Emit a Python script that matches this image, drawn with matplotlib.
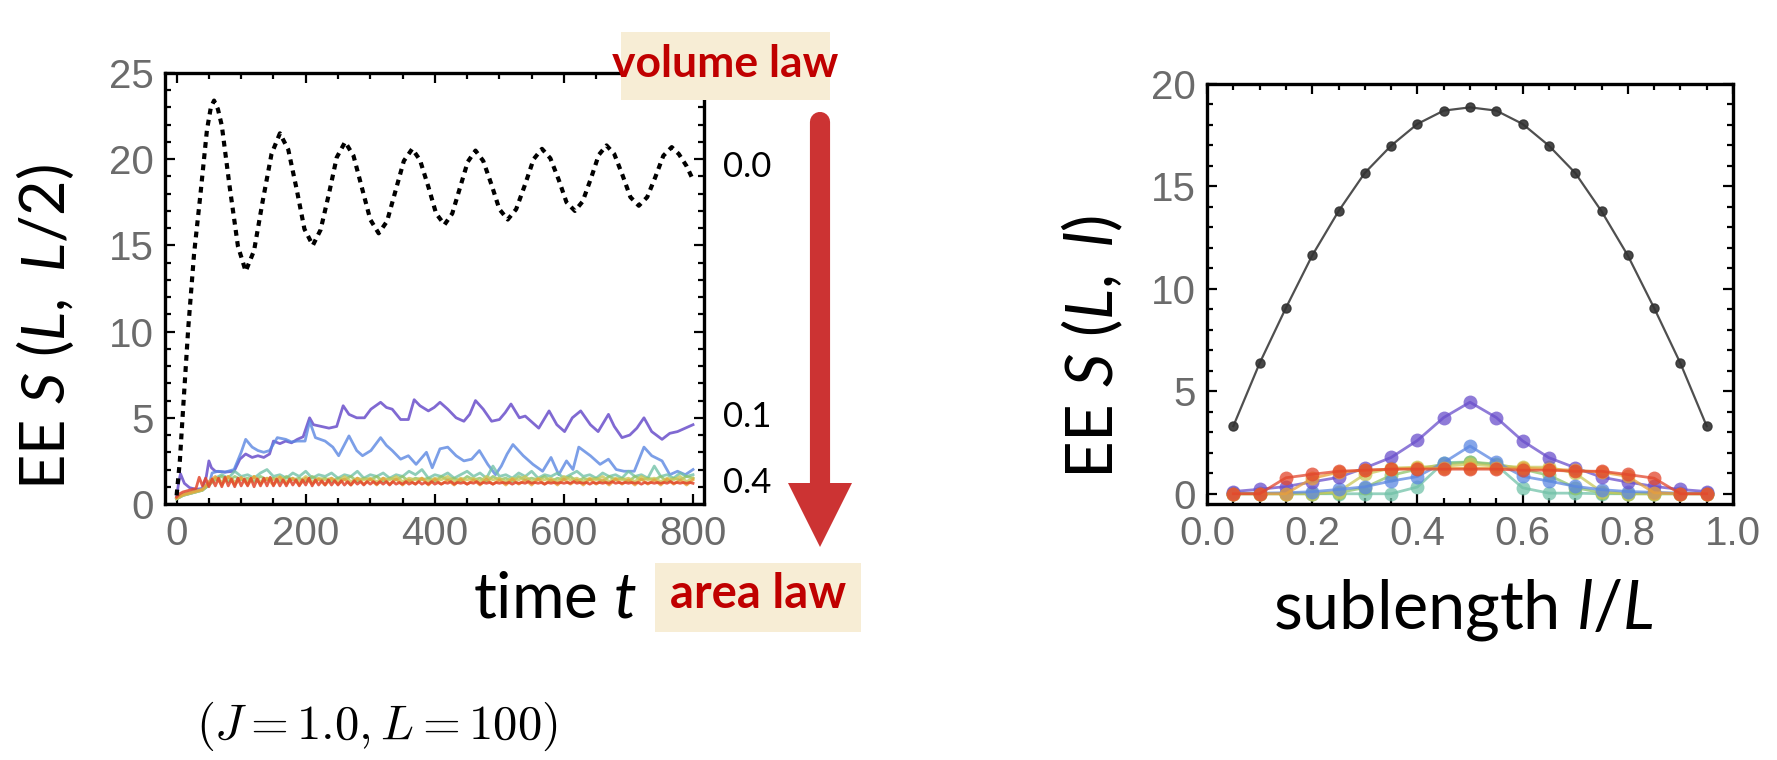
import matplotlib
matplotlib.use('Agg')
import matplotlib.pyplot as plt
import numpy as np
from matplotlib.patches import Rectangle, Polygon
from matplotlib.ticker import MultipleLocator, FormatStrFormatter

plt.rcParams['mathtext.fontset'] = 'custom'
plt.rcParams['mathtext.rm'] = 'Lato'
plt.rcParams['mathtext.it'] = 'Lato:italic'
plt.rcParams['mathtext.bf'] = 'Lato:bold'

# ---------------- data: left panel (time evolution) ----------------
black_t = [0, 5, 10, 18, 27, 37, 47, 53, 58, 64, 70, 82, 95, 107, 120, 133, 147, 160,
           173, 186, 198, 211, 223, 236, 248, 261, 274, 287, 300, 313, 326, 339, 352, 365,
           377, 390, 402, 415, 427, 439, 451, 463, 475, 488, 500, 513, 526, 540, 553, 566,
           579, 592, 604, 617, 629, 642, 654, 666, 678, 691, 703, 716, 729, 742, 754, 767,
           778, 790, 800]
black_S = [0.5, 2.5, 5.5, 10.2, 14.5, 18.0, 21.7, 23.0, 23.4, 22.9, 21.95, 18.45, 14.95, 13.5,
           14.7, 17.5, 20.3, 21.5, 20.55, 18.25, 15.95, 15.0, 15.9, 18.0, 20.1, 21.0, 20.2,
           18.35, 16.5, 15.7, 16.4, 18.15, 19.9, 20.6, 19.95, 18.4, 16.85, 16.2, 16.85, 18.35,
           19.85, 20.5, 19.9, 18.5, 17.1, 16.5, 17.1, 18.55, 20.0, 20.6, 20.05, 18.8, 17.5,
           17.0, 17.55, 18.9, 20.25, 20.8, 20.3, 19.05, 17.8, 17.3, 17.8, 19.0, 20.2, 20.7,
           20.3, 19.6, 18.8]

purple_t = [0, 3, 6, 12, 20, 30, 40, 46, 50, 54, 60, 75, 89, 98, 107, 117, 126, 135, 144, 150,
            160, 169, 178, 187, 196, 206, 212, 224, 236, 248, 258, 267, 279, 291, 301, 316, 325,
            334, 347, 359, 368, 377, 390, 399, 408, 420, 433, 445, 454, 463, 475, 488, 500, 509,
            518, 531, 540, 549, 561, 577, 589, 601, 613, 626, 641, 653, 661, 669, 678, 690, 702,
            713, 724, 736, 752, 764, 776, 788, 800]
purple_S = [0.4, 1.2, 1.75, 1.2, 0.95, 0.85, 0.9, 1.6, 2.5, 2.1, 1.9, 1.85, 1.9, 2.6, 2.9, 2.7,
            2.8, 2.7, 2.9, 3.65, 3.5, 3.65, 3.55, 3.75, 3.9, 5.0, 4.6, 4.5, 4.4, 4.5, 5.7, 5.2,
            5.0, 5.0, 5.5, 5.9, 5.6, 5.5, 4.9, 4.9, 6.05, 5.7, 5.4, 5.6, 5.9, 5.5, 5.0, 4.8, 5.2,
            6.0, 5.5, 4.8, 4.9, 5.3, 5.8, 5.0, 5.1, 4.8, 4.4, 5.4, 4.6, 4.2, 5.0, 5.4, 4.6, 4.2,
            4.7, 5.2, 4.5, 3.85, 4.0, 4.4, 5.0, 4.2, 3.75, 4.1, 4.2, 4.4, 4.6]

blue_t = [0, 10, 20, 30, 40, 50, 55, 64, 75, 89, 100, 107, 117, 126, 135, 144, 156, 169, 178,
          187, 199, 206, 215, 230, 242, 251, 267, 279, 288, 301, 316, 325, 334, 347, 359, 371,
          387, 396, 408, 420, 433, 445, 457, 469, 482, 494, 503, 512, 521, 537, 552, 567, 580,
          592, 604, 614, 623, 641, 656, 669, 681, 693, 709, 724, 736, 752, 764, 776, 788, 800]
blue_S = [0.3, 0.5, 0.6, 0.7, 0.8, 1.1, 1.8, 1.9, 1.85, 2.0, 3.0, 3.75, 3.3, 3.1, 3.0, 3.1,
          3.85, 3.75, 3.6, 3.65, 3.65, 4.8, 3.85, 3.65, 3.3, 2.8, 3.95, 3.1, 2.8, 3.1, 3.85, 3.4,
          3.1, 2.6, 2.8, 2.3, 3.0, 2.1, 3.2, 3.3, 2.8, 2.5, 2.6, 3.1, 2.3, 1.7, 2.2, 2.9, 3.45,
          2.8, 2.3, 1.9, 2.7, 1.7, 2.5, 2.0, 3.3, 2.8, 2.3, 2.6, 2.0, 1.9, 1.9, 3.3, 2.8, 2.5,
          1.7, 1.9, 1.7, 2.0]

# sampled every 10 time units
teal_S = [0.3, 0.55, 0.65, 0.75, 0.85, 1.2, 1.5, 1.7, 1.5, 1.9,
          1.6, 1.7, 1.5, 1.8, 2.0, 1.6, 1.7, 1.5, 1.8, 1.6,
          1.9, 1.5, 1.7, 1.6, 1.8, 1.5, 1.7, 1.6, 1.9, 1.5,
          1.7, 1.6, 1.8, 1.5, 1.7, 1.6, 1.9, 1.7, 2.0, 1.5,
          1.7, 1.6, 1.8, 1.5, 1.7, 1.9, 1.6, 1.8, 1.5, 2.2,
          1.6, 1.7, 1.5, 1.8, 1.6, 1.9, 1.5, 1.7, 1.6, 1.8,
          1.5, 1.7, 1.9, 1.6, 1.7, 1.5, 1.8, 1.6, 1.7, 1.5,
          1.9, 1.6, 1.7, 1.5, 2.2, 1.6, 1.7, 1.5, 1.8, 1.6,
          1.7]
green_S = [0.3, 0.5, 0.6, 0.7, 0.8, 1.1, 1.4, 1.6, 1.3, 1.6,
           1.4, 1.5, 1.3, 1.6, 1.4, 1.5, 1.3, 1.6, 1.4, 1.5,
           1.3, 1.6, 1.4, 1.5, 1.3, 1.5, 1.4, 1.6, 1.3, 1.5,
           1.4, 1.6, 1.3, 1.5, 1.4, 1.6, 1.3, 1.5, 1.4, 1.5,
           1.3, 1.6, 1.4, 1.5, 1.3, 1.6, 1.4, 1.5, 1.3, 1.6,
           1.4, 1.5, 1.3, 1.6, 1.4, 1.5, 1.4, 1.6, 1.3, 1.5,
           1.4, 1.6, 1.3, 1.5, 1.4, 1.5, 1.3, 1.6, 1.4, 1.5,
           1.3, 1.6, 1.4, 1.5, 1.4, 1.6, 1.3, 1.5, 1.4, 1.6,
           1.5]
yellow_S = [0.3, 0.5, 0.6, 0.7, 0.8, 1.2, 1.5, 1.3, 1.6, 1.3,
            1.5, 1.3, 1.6, 1.3, 1.5, 1.4, 1.6, 1.3, 1.5, 1.3,
            1.6, 1.3, 1.5, 1.4, 1.5, 1.3, 1.6, 1.3, 1.5, 1.4,
            1.5, 1.3, 1.5, 1.4, 1.6, 1.3, 1.5, 1.4, 1.5, 1.3,
            1.5, 1.4, 1.6, 1.3, 1.5, 1.4, 1.5, 1.3, 1.6, 1.4,
            1.5, 1.3, 1.5, 1.4, 1.6, 1.3, 1.5, 1.4, 1.5, 1.3,
            1.6, 1.4, 1.5, 1.3, 1.5, 1.4, 1.6, 1.3, 1.5, 1.4,
            1.5, 1.3, 1.6, 1.4, 1.5, 1.3, 1.5, 1.4, 1.6, 1.3,
            1.5]
orange_S = [0.35, 0.55, 0.65, 0.75, 0.85, 1.3, 1.6, 1.1, 1.6, 1.1,
            1.55, 1.1, 1.6, 1.15, 1.5, 1.1, 1.55, 1.15, 1.5, 1.1,
            1.5, 1.15, 1.45, 1.1, 1.5, 1.15, 1.45, 1.1, 1.5, 1.15,
            1.45, 1.1, 1.5, 1.15, 1.45, 1.1, 1.4, 1.15, 1.5, 1.1,
            1.45, 1.15, 1.4, 1.1, 1.45, 1.15, 1.4, 1.1, 1.45, 1.15,
            1.4, 1.1, 1.45, 1.15, 1.4, 1.1, 1.45, 1.15, 1.4, 1.1,
            1.45, 1.15, 1.4, 1.1, 1.45, 1.15, 1.4, 1.1, 1.45, 1.15,
            1.4, 1.1, 1.45, 1.15, 1.4, 1.1, 1.45, 1.15, 1.4, 1.1,
            1.4]
# sampled every 5 time units
red_S = [0.4, 0.6, 0.7, 0.75, 0.8, 0.85, 0.9,
         1.55, 1.05, 1.5, 1.0, 1.45, 1.05, 1.5, 1.0, 1.55, 1.05,
         1.45, 1.0, 1.5, 1.05, 1.45, 1.05, 1.5, 1.0, 1.45, 1.05,
         1.5, 1.05, 1.55, 1.05, 1.45, 1.05, 1.4, 1.05, 1.45, 1.1,
         1.4, 1.05, 1.4, 1.1, 1.5, 1.05, 1.4, 1.1, 1.35, 1.1,
         1.4, 1.1, 1.35, 1.1, 1.35, 1.1, 1.3, 1.1, 1.35, 1.15,
         1.3, 1.1, 1.3, 1.15,
         1.3, 1.15, 1.3, 1.15, 1.3, 1.1, 1.3, 1.15, 1.25, 1.15,
         1.3, 1.15, 1.25, 1.15, 1.3, 1.15, 1.25, 1.15, 1.3, 1.15,
         1.25, 1.15, 1.25, 1.2, 1.3, 1.15, 1.25, 1.2, 1.25, 1.15,
         1.25, 1.2, 1.3, 1.15, 1.25, 1.2, 1.25, 1.15, 1.25, 1.2,
         1.25, 1.2, 1.25, 1.15, 1.25, 1.2, 1.25, 1.2, 1.3, 1.2,
         1.25, 1.2, 1.25, 1.15, 1.25, 1.2, 1.25, 1.2, 1.25, 1.2,
         1.25, 1.2, 1.3, 1.2, 1.25, 1.2, 1.25, 1.15, 1.25, 1.2,
         1.25, 1.2, 1.25, 1.2, 1.3, 1.2, 1.25, 1.2, 1.25, 1.2,
         1.25, 1.2, 1.25, 1.15, 1.25, 1.2, 1.25, 1.2, 1.25, 1.2,
         1.25, 1.2, 1.3, 1.2, 1.25, 1.2, 1.25, 1.2, 1.25, 1.2]

# ---------------- data: right panel (entanglement profile) ----------------
ell = [0.05, 0.10, 0.15, 0.20, 0.25, 0.30, 0.35, 0.40, 0.45, 0.50,
       0.55, 0.60, 0.65, 0.70, 0.75, 0.80, 0.85, 0.90, 0.95]
black_r = [3.30, 6.37, 9.07, 11.63, 13.79, 15.66, 16.99, 18.05, 18.70, 18.86,
           18.70, 18.05, 16.99, 15.66, 13.79, 11.63, 9.07, 6.37, 3.30]
purple_r = [0.11, 0.22, 0.35, 0.58, 0.80, 1.26, 1.77, 2.60, 3.72, 4.47,
            3.72, 2.58, 1.76, 1.27, 0.81, 0.57, 0.36, 0.21, 0.11]
blue_r = [0.03, 0.03, 0.05, 0.10, 0.21, 0.34, 0.62, 0.84, 1.52, 2.33,
          1.54, 0.85, 0.62, 0.36, 0.20, 0.11, 0.07, 0.03, 0.03]
teal_r = [0.0, 0.0, 0.0, 0.0, 0.0, 0.0, 0.0, 0.33, 1.52, 1.55,
          1.40, 0.29, 0.03, 0.03, 0.0, 0.0, 0.0, 0.0, 0.0]
green_r = [0.0, 0.0, 0.0, 0.0, 0.05, 0.3, 0.9, 1.2, 1.45, 1.55,
           1.45, 1.2, 0.9, 0.3, 0.05, 0.0, 0.0, 0.0, 0.0]
yellow_r = [0.0, 0.0, 0.0, 0.0, 0.1, 0.95, 1.25, 1.3, 1.35, 1.45,
            1.35, 1.3, 1.3, 1.0, 0.1, 0.0, 0.0, 0.0, 0.0]
orange_r = [0.0, 0.0, 0.0, 0.75, 1.05, 1.15, 1.2, 1.25, 1.25, 1.25,
            1.25, 1.25, 1.2, 1.15, 1.05, 0.85, 0.05, 0.0, 0.0]
red_r = [0.0, 0.0, 0.78, 0.95, 1.10, 1.15, 1.20, 1.20, 1.20, 1.20,
         1.20, 1.15, 1.15, 1.10, 1.10, 0.94, 0.76, 0.0, 0.0]

series_labels = ["0.0", "0.1", "0.4"]
colors = {"purple": "#6a4fcb", "blue": "#5b87e2", "teal": "#72c2a8", "green": "#8ec36a",
          "yellow": "#c9c85a", "orange": "#e9a13a", "red": "#e2462c"}

# ---------------- figure ----------------
W, H = 1777, 760
fig = plt.figure(figsize=(W / 100, H / 100), dpi=100)


def frac(x0, y0, x1, y1):
    return [x0 / W, 1 - y1 / H, (x1 - x0) / W, (y1 - y0) / H]


axL = fig.add_axes(frac(165, 73, 704, 504))
axR = fig.add_axes(frac(1207, 84, 1733, 504))

tick_color = '#6b6b6b'
for ax in (axL, axR):
    for sp in ax.spines.values():
        sp.set_linewidth(2.4)
    ax.tick_params(which='both', direction='in', top=True, right=True, width=1.6,
                   labelsize=29, labelcolor=tick_color, color='black')
    ax.tick_params(which='major', length=7, pad=8)
    ax.tick_params(which='minor', length=4)

# left panel
axL.plot(black_t, black_S, color='black', lw=3.0, ls=(0, (1.4, 1.3)), zorder=5)
t10 = 10 * np.arange(len(teal_S))
t5 = 5 * np.arange(len(red_S))
lw_c = 2.0
axL.plot(purple_t, purple_S, color=colors['purple'], lw=lw_c, alpha=0.85)
axL.plot(blue_t, blue_S, color=colors['blue'], lw=lw_c, alpha=0.8)
axL.plot(t10, teal_S, color=colors['teal'], lw=lw_c, alpha=0.8)
axL.plot(t10, green_S, color=colors['green'], lw=lw_c, alpha=0.8)
axL.plot(t10, yellow_S, color=colors['yellow'], lw=lw_c, alpha=0.8)
axL.plot(t10, orange_S, color=colors['orange'], lw=lw_c, alpha=0.8)
axL.plot(t5, red_S, color=colors['red'], lw=lw_c, alpha=0.85)
axL.set_xlim(-18, 817)
axL.set_ylim(0, 25)
axL.xaxis.set_major_locator(MultipleLocator(200))
axL.xaxis.set_minor_locator(MultipleLocator(50))
axL.yaxis.set_major_locator(MultipleLocator(5))
axL.yaxis.set_minor_locator(MultipleLocator(1))

# right panel
axR.plot(ell, black_r, color='#3c3c3c', lw=1.6, marker='o', ms=6.5, mfc='#333333',
         mec='#333333', alpha=0.9, zorder=5)
for key, vals in [("teal", teal_r), ("green", green_r), ("yellow", yellow_r),
                  ("blue", blue_r), ("purple", purple_r), ("orange", orange_r),
                  ("red", red_r)]:
    axR.plot(ell, vals, color=colors[key], lw=2.0, marker='o', ms=10, alpha=0.75,
             mec='none')
axR.set_xlim(0, 1)
axR.set_ylim(-0.5, 20)
axR.xaxis.set_major_locator(MultipleLocator(0.2))
axR.xaxis.set_minor_locator(MultipleLocator(0.05))
axR.yaxis.set_major_locator(MultipleLocator(5))
axR.yaxis.set_minor_locator(MultipleLocator(1))
axR.xaxis.set_major_formatter(FormatStrFormatter('%.1f'))

for ax in (axL, axR):
    for lab in ax.get_xticklabels() + ax.get_yticklabels():
        lab.set_family('Liberation Sans')

# overlay in pixel coordinates
ov = fig.add_axes([0, 0, 1, 1], zorder=10)
ov.set_xlim(0, W)
ov.set_ylim(H, 0)
ov.axis('off')
ov.patch.set_visible(False)

box_color = '#f7edd5'
red_txt = '#c00000'
ov.add_patch(Rectangle((621, 32), 209, 68, facecolor=box_color, edgecolor='none'))
ov.text(725, 64, 'volume law', ha='center', va='center', fontsize=32, color=red_txt,
        fontweight='bold', family='Lato')
ov.add_patch(Rectangle((655, 563), 206, 69, facecolor=box_color, edgecolor='none'))
ov.text(758, 594, 'area law', ha='center', va='center', fontsize=34, color=red_txt,
        fontweight='bold', family='Lato')

# arrow
arrow_col = '#cc3333'
ov.plot([820, 820], [122, 490], color=arrow_col, lw=14.5, solid_capstyle='round')
ov.add_patch(Polygon([[788, 483], [852, 483], [820, 547]], closed=True,
                     facecolor=arrow_col, edgecolor='none'))

# series labels
for lab, yy in zip(series_labels, [167, 417, 483]):
    ov.text(723, yy, lab, ha='left', va='center', fontsize=25, color='black', family='Lato')

# axis labels
ov.text(45, 327, r'EE $S\ (L,\ L/2)$', rotation=90, ha='center', va='center',
        fontsize=44, family='Lato')
ov.text(1092, 347, r'EE $S\ (L,\ l)$', rotation=90, ha='center', va='center',
        fontsize=47, family='Lato')
ov.text(555, 600, r'time $t$', ha='center', va='center', fontsize=46, family='Lato')
ov.text(1463, 610, r'sublength $l/L$', ha='center', va='center', fontsize=48, family='Lato')
ov.text(377, 726, r'$(J = 1.0, L = 100)$', ha='center', va='center', fontsize=35,
        math_fontfamily='cm')

fig.savefig('out.png', dpi=100)
